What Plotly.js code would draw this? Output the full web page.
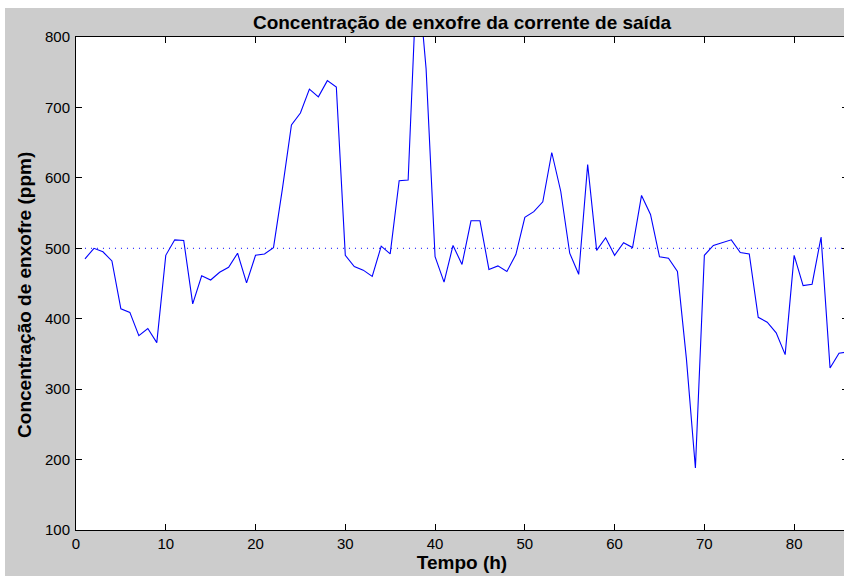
<!DOCTYPE html>
<html>
<head>
<meta charset="utf-8">
<script src="https://cdn.plot.ly/plotly-3.0.1.min.js"></script>
<style>
  html, body { margin: 0; padding: 0; background: #ffffff; width: 844px; height: 576px; overflow: hidden; }
  #grafico { position: absolute; left: 5px; top: 8px; }
</style>
</head>
<body>
<div id="grafico"></div>
<script>
// Tempo de operação (h)
const tempo = [];
for (let h = 1; h <= 86; h++) tempo.push(h);

// Concentração de enxofre na corrente de saída (ppm)
const enxofre = [
  485, 500, 495, 482, 414, 409, 376, 386, 366, 490,
  512, 511, 421, 461, 455, 466, 473, 493, 451, 490,
  492, 501, 585, 675, 692, 726, 715, 738, 729, 490,
  474, 469, 460, 503, 492, 596, 597, 900, 755, 488,
  452, 504, 477, 539, 539, 470, 475, 467, 491, 544,
  552, 566, 636, 581, 493, 463, 619, 497, 515, 490,
  508, 501, 575, 548, 488, 486, 467, 343, 188, 490,
  504, 508, 512, 494, 492, 402, 395, 380, 349, 490,
  447, 449, 516, 330, 351, 353
];

// Especificação de referência (ppm)
const especificacao = 500;
const limiteX = [tempo[0], tempo[tempo.length - 1]];
const limiteY = [especificacao, especificacao];

const ticksY = [100, 200, 300, 400, 500, 600, 700, 800];
const ticksX = [0, 10, 20, 30, 40, 50, 60, 70, 80];

const fonteTick = { family: '"Liberation Sans Narrow", "Liberation Sans", Arial, sans-serif', size: 15, color: '#000000' };
const fonteTitulo = { family: '"Liberation Sans", Arial, sans-serif', size: 19, color: '#000000', weight: 'bold' };

const traces = [
  {
    x: tempo, y: enxofre, type: 'scatter', mode: 'lines',
    line: { color: '#0000ff', width: 1.1 },
    hoverinfo: 'skip'
  },
  {
    x: limiteX, y: limiteY, type: 'scatter', mode: 'lines',
    line: { color: '#0000ff', width: 1, dash: '1px,5px' },
    hoverinfo: 'skip'
  }
];

const eixoBase = {
  showgrid: false, zeroline: false,
  showline: true, linecolor: '#000000', linewidth: 1, mirror: 'ticks',
  ticks: 'inside', ticklen: 6, tickwidth: 1, tickcolor: '#000000',
  tickfont: fonteTick
};

const layout = {
  width: 843, height: 568,
  margin: { l: 71, r: 0, t: 29, b: 46, pad: 0 },
  paper_bgcolor: '#cccccc',
  plot_bgcolor: '#ffffff',
  showlegend: false,
  title: {
    text: 'Concentração de enxofre da corrente de saída',
    font: fonteTitulo,
    x: 0.5, xanchor: 'center', xref: 'paper',
    y: 1, yref: 'paper', yanchor: 'bottom', pad: { b: 8 }
  },
  xaxis: Object.assign({}, eixoBase, {
    range: [0, 86], tickvals: ticksX, ticktext: ticksX.map(String),
    ticklabelstandoff: 0,
    title: { text: 'Tempo (h)', font: fonteTitulo, standoff: 0 }
  }),
  yaxis: Object.assign({}, eixoBase, {
    range: [100, 800], tickvals: ticksY, ticktext: ticksY.map(String),
    ticklabelstandoff: 2
  }),
  annotations: [{
    text: 'Concentração de enxofre (ppm)',
    font: fonteTitulo, textangle: -90, showarrow: false,
    xref: 'paper', yref: 'paper',
    x: -0.066, xanchor: 'center',
    y: 0.477, yanchor: 'middle'
  }]
};

Plotly.newPlot('grafico', traces, layout, { staticPlot: true, displayModeBar: false });
</script>
</body>
</html>
